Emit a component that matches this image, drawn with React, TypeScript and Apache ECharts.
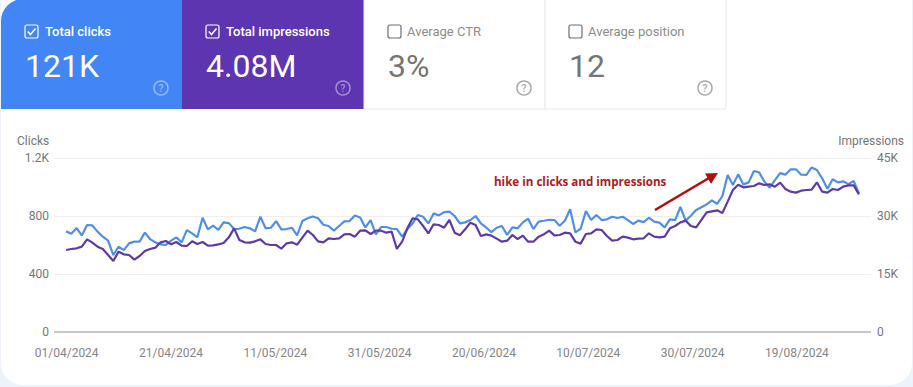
import React, { useEffect, useRef } from "react";
import * as echarts from "echarts";

const tickDays = [0, 20, 40, 60, 80, 100, 120, 140];
const tickLabels = ["01/04/2024", "21/04/2024", "11/05/2024", "31/05/2024", "20/06/2024", "10/07/2024", "30/07/2024", "19/08/2024"];

const clicks = [
  694, 678, 717, 666, 738, 735, 692, 657, 630, 531, 588, 565, 611, 623, 623, 685, 641, 618, 604, 600,
  630, 653, 618, 703, 680, 653, 788, 708, 733, 705, 756, 751, 710, 712, 724, 715, 694, 795, 715, 719,
  765, 708, 710, 719, 666, 765, 784, 797, 784, 740, 731, 699, 731, 763, 765, 804, 790, 721, 772, 673,
  724, 724, 712, 710, 657, 710, 749, 807, 795, 749, 818, 804, 827, 830, 800, 749, 756, 772, 800, 749,
  721, 689, 719, 731, 669, 721, 715, 756, 781, 710, 761, 767, 774, 772, 733, 767, 846, 687, 712, 834,
  772, 807, 772, 777, 795, 786, 795, 772, 745, 768, 758, 788, 761, 754, 722, 777, 772, 862, 768, 802,
  841, 860, 880, 908, 883, 938, 1083, 1014, 1087, 1018, 1032, 1110, 1101, 1037, 995, 1048, 1096, 1085, 1122, 1122,
  1085, 1083, 1135, 1117, 1060, 988, 1053, 1032, 1039, 1020, 1041, 956,
];

const impressions = [
  21210, 21470, 21640, 22070, 23970, 23100, 22070, 21470, 19920, 18360, 20780, 20090, 19920, 18710, 19660, 20950, 21470, 21810, 23190, 23540,
  22670, 23280, 22330, 22240, 23450, 22760, 23280, 22330, 22420, 22670, 23020, 24480, 26810, 23790, 23190, 23100, 23450, 23970, 22760, 22500,
  22500, 21550, 22930, 23190, 22590, 24400, 26210, 25090, 23450, 23190, 24230, 24050, 24230, 25260, 25350, 24660, 26210, 26290, 25350, 26210,
  26210, 25690, 25950, 21470, 23360, 26810, 29400, 29140, 27410, 25520, 27850, 27670, 26980, 28970, 25690, 25000, 26550, 28280, 27670, 24830,
  25260, 24920, 24140, 23360, 23620, 25090, 24050, 24920, 23360, 23360, 24660, 25260, 26210, 25000, 25090, 25690, 25520, 23360, 22850, 25350,
  25520, 26550, 26380, 24830, 23620, 23800, 24660, 24400, 23970, 24140, 24230, 25520, 24660, 24490, 24660, 26810, 27420, 28360, 28800, 27420,
  27070, 28970, 30950, 31210, 31470, 30780, 33710, 36730, 38100, 37420, 37590, 37760, 38450, 38020, 38190, 37590, 38620, 36980, 36290, 36040,
  36550, 36730, 36810, 38710, 36290, 36040, 36980, 36730, 37590, 37930, 37930, 35600,
];

const cards = [
  { title: "Total clicks", value: "121K", x: 1, w: 181, fill: "#4285f4", on: true },
  { title: "Total impressions", value: "4.08M", x: 182, w: 182, fill: "#5e35b1", on: true },
  { title: "Average CTR", value: "3%", x: 364, w: 181, fill: "#ffffff", on: false },
  { title: "Average position", value: "12", x: 545, w: 181, fill: "#ffffff", on: false },
];

const font = "Roboto";

function cardGraphics() {
  const els: any[] = [];
  cards.forEach((c, i) => {
    const left = i === 0 ? 25 : c.x + 24;
    const fg = c.on ? "#ffffff" : "#757575";
    els.push({
      type: "rect",
      shape: { x: c.x, y: -1, width: c.w, height: 110, r: i === 0 ? [22, 0, 0, 0] : 0 },
      style: { fill: c.fill, stroke: c.on ? "none" : "#e8e8e8", lineWidth: 1 },
      silent: true,
    });
    els.push({
      type: "rect",
      shape: { x: left, y: 25, width: 13, height: 13, r: 2 },
      style: { fill: "none", stroke: c.on ? "#ffffff" : "#6f6f6f", lineWidth: 1.2 },
      silent: true,
    });
    if (c.on) {
      els.push({
        type: "polyline",
        shape: { points: [[left + 2.8, 31.5], [left + 5.5, 34.5], [left + 10.5, 28.5]] },
        style: { fill: "none", stroke: "#ffffff", lineWidth: 1.5 },
        silent: true,
      });
    }
    els.push({
      type: "text",
      x: c.on ? left + 20 : left + 19,
      y: 31,
      style: { text: c.title, font: `${c.on ? 500 : 400} 13px ${font}`, fill: c.on ? "#ffffff" : "#8c8c8c", textVerticalAlign: "middle" },
      silent: true,
    });
    els.push({
      type: "text",
      x: left,
      y: 66,
      style: { text: c.value, font: `400 32px ${font}`, fill: fg, textVerticalAlign: "middle" },
      silent: true,
    });
    const hx = c.x + c.w - 21;
    const hc = c.on ? "rgba(255,255,255,0.45)" : "#a8a8a8";
    els.push({
      type: "circle",
      shape: { cx: hx, cy: 88, r: 7 },
      style: { fill: "none", stroke: hc, lineWidth: 1.5 },
      silent: true,
    });
    els.push({
      type: "text",
      x: hx,
      y: 88.5,
      style: { text: "?", font: `500 10px ${font}`, fill: hc, textAlign: "center", textVerticalAlign: "middle" },
      silent: true,
    });
  });
  els.push({
    type: "text",
    x: 17,
    y: 141,
    style: { text: "Clicks", font: `400 12px ${font}`, fill: "#757575", textVerticalAlign: "middle" },
    silent: true,
  });
  els.push({
    type: "text",
    x: 904,
    y: 141,
    style: { text: "Impressions", font: `400 12px ${font}`, fill: "#757575", textAlign: "right", textVerticalAlign: "middle" },
    silent: true,
  });
  els.push({
    type: "text",
    x: 494,
    y: 181,
    style: { text: "hike in clicks and impressions", font: "700 11.6px 'Open Sans'", fill: "#a81c1c", textVerticalAlign: "middle" },
    silent: true,
  });
  els.push({
    type: "line",
    shape: { x1: 655, y1: 210, x2: 709, y2: 178 },
    style: { stroke: "#b30f0f", lineWidth: 2.6 },
    silent: true,
  });
  els.push({
    type: "polygon",
    shape: { points: [[718, 173], [705, 173.5], [711, 184]] },
    style: { fill: "#b30f0f" },
    silent: true,
  });
  return els;
}

export default function App() {
  const ref = useRef<HTMLDivElement>(null);

  useEffect(() => {
    document.body.style.margin = "0";
    const chart = echarts.init(ref.current!, undefined, { renderer: "svg" });
    const axisText = { color: "#757575", fontFamily: font, fontSize: 12 };
    chart.setOption({
      animation: false,
      backgroundColor: "transparent",
      grid: { left: 54, right: 42, top: 158, bottom: 55 },
      xAxis: [
        {
          type: "value",
          min: -2.3,
          max: 153.3,
          show: false,
          splitLine: { show: false },
        },
        {
          type: "value",
          position: "bottom",
          min: -2.43,
          max: 154.2,
          axisLine: { show: false },
          axisTick: { show: false },
          splitLine: { show: false },
          axisLabel: {
            color: "#858585",
            fontFamily: font,
            fontSize: 12,
            margin: 15,
            customValues: tickDays,
            formatter: (v: number) => tickLabels[tickDays.indexOf(v)] ?? "",
          },
        },
      ],
      yAxis: [
        {
          type: "value",
          min: 0,
          max: 1200,
          interval: 400,
          axisLine: { show: false },
          axisTick: { show: false },
          axisLabel: {
            ...axisText,
            margin: 5,
            formatter: (v: number) => (v >= 1000 ? `${v / 1000}K` : `${v}`),
          },
          splitLine: { show: true, lineStyle: { color: "#eeeeee", width: 1 } },
        },
        {
          type: "value",
          position: "right",
          min: 0,
          max: 45000,
          interval: 15000,
          axisLine: { show: false },
          axisTick: { show: false },
          axisLabel: {
            ...axisText,
            margin: 6,
            formatter: (v: number) => (v >= 1000 ? `${v / 1000}K` : `${v}`),
          },
          splitLine: { show: false },
        },
      ],
      series: [
        {
          name: "Impressions",
          type: "line",
          xAxisIndex: 0,
          yAxisIndex: 1,
          data: impressions.map((v, i) => [i, v]),
          showSymbol: false,
          lineStyle: { color: "#5e3aa8", width: 2.2 },
          z: 3,
        },
        {
          name: "Clicks",
          type: "line",
          xAxisIndex: 0,
          yAxisIndex: 0,
          data: clicks.map((v, i) => [i, v]),
          showSymbol: false,
          lineStyle: { color: "#4f8fe6", width: 2.2 },
          z: 2,
          markLine: {
            silent: true,
            symbol: "none",
            label: { show: false },
            lineStyle: { color: "#b8b8b8", width: 1.5, type: "solid" },
            data: [{ yAxis: 0 }],
          },
        },
      ],
      graphic: { elements: cardGraphics() },
    });
    return () => chart.dispose();
  }, []);

  return (
    <div style={{ position: "fixed", left: 0, top: 0, width: 913, height: 387, background: "#eef2fb", overflow: "hidden" }}>
      <div style={{ position: "absolute", left: 1, top: -30, width: 911, height: 415, background: "#ffffff", borderRadius: 22 }} />
      <div ref={ref} style={{ position: "absolute", left: 0, top: 0, width: 913, height: 387 }} />
    </div>
  );
}
